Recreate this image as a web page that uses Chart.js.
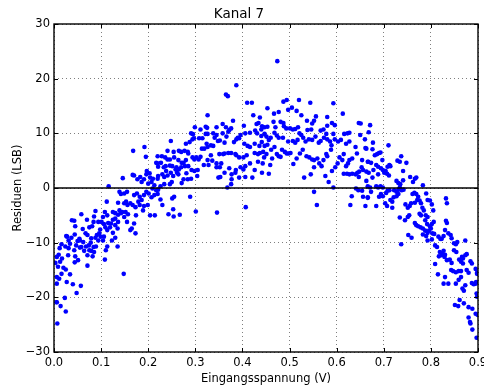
<!DOCTYPE html>
<html>
<head>
<meta charset="utf-8">
<title>Kanal 7</title>
<script src="https://cdn.jsdelivr.net/npm/chart.js@4/dist/chart.umd.min.js"></script>
<style>
  html, body { margin: 0; padding: 0; background: #fff; }
  #wrap { width: 484px; height: 389px; position: relative; }
</style>
</head>
<body>
<div id="wrap"><canvas id="grafik"></canvas></div>
<script>
// Messpunkte [Eingangsspannung V, Residuum LSB]
const punkteBereich1 = [
  [0.005,-20.9],[0.014,-21.6],[0.025,-22.6],[0.007,-24.8],[0.006,-20.9],[0.023,-20.1],[0.011,-16.6],[0.006,-16.3],
  [0.006,-17.5],[0.016,-15.7],[0.027,-17.2],[0.040,-17.6],[0.048,-19.2],[0.057,-17.9],[0.034,-15.8],[0.020,-14.6],
  [0.025,-14.9],[0.0085,-14.4],[0.017,-12.9],[0.013,-13.5],[0.006,-12.6],[0.003,-13.7],[0.010,-12.2],[0.016,-10.3],
  [0.024,-10.7],[0.031,-11.0],[0.030,-12.3],[0.028,-8.9],[0.031,-9.6],[0.034,-10.2],[0.043,-11.4],[0.045,-12.5],
  [0.044,-13.6],[0.051,-13.2],[0.047,-10.5],[0.037,-9.1],[0.044,-8.5],[0.050,-9.7],[0.055,-10.9],[0.054,-9.3],
  [0.062,-9.9],[0.058,-10.8],[0.068,-10.7],[0.064,-11.5],[0.071,-14.2],[0.071,-12.3],[0.075,-11.4],[0.082,-12.5],
  [0.079,-11.5],[0.085,-11.7],[0.074,-10.5],[0.078,-10.0],[0.084,-10.8],[0.089,-10.7],[0.094,-9.6],[0.091,-8.6],
  [0.088,-9.1],[0.079,-9.2],[0.071,-8.6],[0.067,-8.3],[0.061,-7.5],[0.055,-9.6],[0.045,-7.0],[0.038,-5.9],
  [0.043,-6.0],[0.058,-4.8],[0.070,-5.8],[0.075,-7.2],[0.081,-7.0],[0.084,-6.2],[0.088,-4.2],[0.085,-5.2],
  [0.094,-6.2],[0.098,-7.6],[0.096,-8.3],[0.108,-13.1],[0.110,-11.4],[0.113,-10.7],[0.104,-9.6],[0.106,-8.9],
  [0.099,-8.9],[0.104,-5.3],[0.101,-6.2],[0.106,-6.6],[0.109,-7.2],[0.113,-7.7],[0.115,-6.4],[0.119,-7.2],
  [0.125,-8.2],[0.130,-9.1],[0.135,-10.7],[0.123,-9.6],[0.135,-7.4],[0.130,-6.8],[0.136,-6.2],[0.130,-5.6],
  [0.125,-5.8],[0.121,-6.5],[0.113,-5.0],[0.108,-4.4],[0.112,-2.5],[0.116,0.3],[0.125,-4.4],[0.130,-4.6],
  [0.136,-4.9],[0.139,-4.1],[0.142,-4.6],[0.145,-4.4],[0.148,-15.7],[0.149,-5.3],[0.155,-6.2],[0.162,-7.7],
  [0.165,-7.4],[0.173,-8.3],[0.170,-6.5],[0.174,-5.0],[0.157,-4.8],[0.152,-4.4],[0.149,-2.8],[0.153,-2.5],
  [0.156,-3.1],[0.162,-2.8],[0.167,-3.1],[0.173,-3.5],[0.179,-2.5],[0.186,-2.2],[0.182,-3.1],[0.189,-4.1],
  [0.191,-3.3],[0.199,-3.1],[0.204,-5.0],[0.214,-5.0],[0.170,-1.3],[0.176,-1.0],[0.182,-1.6],[0.191,-1.3],
  [0.196,-0.7],[0.201,-1.0],[0.207,-1.7],[0.213,-1.3],[0.217,-0.4],[0.221,-0.3],[0.209,-0.1],[0.207,1.1],
  [0.213,0.5],[0.200,0.8],[0.204,1.9],[0.196,2.5],[0.191,1.6],[0.186,1.1],[0.183,2.0],[0.177,1.6],
  [0.170,2.3],[0.167,2.4],[0.168,6.8],[0.192,7.5],[0.195,5.7],[0.197,3.1],[0.203,2.7],[0.217,4.6],
  [0.221,3.9],[0.210,1.7],[0.155,-0.7],[0.146,1.8],[0.139,-0.7],[0.142,-1.1],[0.149,-1.0],[0.136,-2.7],
  [0.012,-11.0],[0.026,-8.8]
];
const punkteBereich2 = [
  [0.387,18.8],[0.365,17.1],[0.369,16.8],[0.410,15.6],[0.420,15.6],[0.326,13.3],[0.380,12.3],[0.423,13.3],
  [0.437,12.9],[0.299,11.1],[0.311,10.7],[0.322,11.2],[0.325,11.0],[0.345,11.1],[0.358,11.7],[0.365,11.1],
  [0.372,10.6],[0.376,10.9],[0.403,11.4],[0.430,11.7],[0.434,11.9],[0.291,10.0],[0.295,9.85],[0.297,9.1],
  [0.322,9.9],[0.326,9.9],[0.338,10.0],[0.345,9.7],[0.358,10.0],[0.370,10.3],[0.390,9.2],[0.396,9.7],
  [0.406,10.0],[0.416,10.1],[0.427,10.5],[0.431,10.0],[0.440,10.7],[0.248,8.6],[0.280,8.1],[0.288,8.4],
  [0.294,8.9],[0.308,9.1],[0.315,9.1],[0.324,8.1],[0.326,7.5],[0.333,7.8],[0.338,7.7],[0.341,9.2],
  [0.348,8.6],[0.352,8.7],[0.362,8.3],[0.366,9.4],[0.382,8.4],[0.387,8.9],[0.393,9.1],[0.404,8.1],
  [0.411,7.7],[0.416,7.5],[0.426,8.1],[0.436,7.7],[0.441,8.4],[0.220,5.8],[0.229,5.8],[0.241,6.8],
  [0.254,6.6],[0.265,6.8],[0.270,6.6],[0.277,6.8],[0.284,6.6],[0.285,6.3],[0.241,5.2],[0.246,5.2],
  [0.236,5.6],[0.255,5.6],[0.264,5.1],[0.271,4.6],[0.275,4.6],[0.280,5.1],[0.294,5.6],[0.298,5.2],
  [0.302,5.6],[0.307,5.2],[0.311,5.7],[0.314,7.2],[0.319,7.2],[0.326,5.1],[0.333,6.0],[0.336,5.0],
  [0.345,4.5],[0.351,6.2],[0.359,6.2],[0.362,6.3],[0.355,4.5],[0.370,6.4],[0.376,6.4],[0.385,6.2],
  [0.387,6.0],[0.393,5.6],[0.402,5.6],[0.409,6.0],[0.426,6.4],[0.433,6.2],[0.437,6.4],[0.444,6.6],
  [0.220,4.5],[0.227,4.6],[0.233,3.8],[0.237,4.0],[0.246,4.1],[0.251,4.0],[0.260,3.8],[0.265,3.4],
  [0.270,3.8],[0.278,4.0],[0.285,4.0],[0.221,2.2],[0.230,2.5],[0.234,2.0],[0.238,3.1],[0.241,2.3],
  [0.248,2.8],[0.253,2.2],[0.258,3.4],[0.261,2.8],[0.264,2.5],[0.271,0.9],[0.275,1.6],[0.281,2.7],
  [0.284,1.6],[0.291,1.7],[0.292,3.3],[0.298,3.1],[0.305,3.3],[0.304,2.2],[0.234,0.7],[0.246,0.7],
  [0.250,1.1],[0.226,0.3],[0.220,1.7],[0.318,4.2],[0.328,4.2],[0.345,3.8],[0.352,3.8],[0.362,2.8],
  [0.349,1.9],[0.353,2.0],[0.372,3.6],[0.377,2.5],[0.377,1.6],[0.385,2.8],[0.386,3.3],[0.376,0.7],
  [0.393,1.9],[0.396,3.8],[0.402,3.4],[0.406,4.0],[0.406,2.0],[0.416,4.5],[0.421,1.9],[0.426,3.3],
  [0.433,4.8],[0.443,4.5],[0.368,0.1],[0.407,-3.5],[0.226,-2.1],[0.230,-3.1],[0.251,-1.9],[0.255,-1.6],
  [0.253,-3.9],[0.243,-4.8],[0.254,-5.2],[0.267,-4.9],[0.289,-1.6],[0.301,-4.3],[0.346,-4.5],[0.220,-1.1]
];
const punkteBereich3 = [
  [0.474,23.2],[0.487,15.8],[0.494,16.1],[0.520,16.1],[0.544,15.6],[0.593,15.5],[0.453,14.6],[0.467,13.6],
  [0.477,13.9],[0.497,14.3],[0.505,14.7],[0.515,14.1],[0.525,13.3],[0.537,12.3],[0.548,11.8],[0.552,12.3],
  [0.556,13.1],[0.580,13.0],[0.590,11.9],[0.596,11.5],[0.613,13.6],[0.647,11.9],[0.651,11.8],[0.4415,11.3],
  [0.447,11.1],[0.453,11.2],[0.466,12.1],[0.470,11.1],[0.481,12.1],[0.487,11.9],[0.488,11.3],[0.493,10.9],
  [0.501,10.9],[0.507,10.7],[0.512,10.8],[0.518,11.1],[0.538,10.6],[0.546,10.7],[0.566,10.5],[0.572,10.7],
  [0.580,11.4],[0.593,9.9],[0.616,9.9],[0.623,10.0],[0.627,10.1],[0.440,9.5],[0.447,9.9],[0.451,9.4],
  [0.456,8.8],[0.460,9.2],[0.468,10.1],[0.473,9.6],[0.477,9.2],[0.486,9.2],[0.497,8.5],[0.507,8.6],
  [0.512,8.3],[0.517,8.8],[0.521,10.0],[0.525,9.7],[0.529,9.2],[0.534,8.5],[0.541,8.9],[0.548,8.8],
  [0.555,9.4],[0.562,8.3],[0.566,8.6],[0.573,9.2],[0.578,9.9],[0.580,8.9],[0.586,8.5],[0.589,7.8],
  [0.596,8.9],[0.603,8.5],[0.609,8.8],[0.620,8.1],[0.627,8.5],[0.640,7.5],[0.650,9.7],[0.660,8.9],
  [0.447,7.7],[0.453,7.9],[0.461,7.0],[0.468,7.5],[0.451,6.2],[0.446,5.6],[0.463,5.4],[0.473,6.2],
  [0.477,5.8],[0.484,7.0],[0.490,6.6],[0.481,5.7],[0.494,6.3],[0.498,6.3],[0.502,6.4],[0.508,4.4],
  [0.515,5.4],[0.522,6.3],[0.528,7.0],[0.536,5.8],[0.542,5.6],[0.548,5.2],[0.552,5.1],[0.559,5.4],
  [0.563,4.5],[0.568,4.0],[0.552,3.8],[0.572,5.1],[0.576,2.2],[0.578,6.2],[0.580,5.8],[0.588,7.0],
  [0.590,3.1],[0.597,3.8],[0.602,4.5],[0.606,5.6],[0.612,5.1],[0.615,6.2],[0.620,4.0],[0.624,4.5],
  [0.627,5.1],[0.633,5.4],[0.615,2.6],[0.622,2.6],[0.627,2.5],[0.633,2.6],[0.640,2.5],[0.644,2.8],
  [0.648,3.0],[0.653,3.8],[0.656,3.3],[0.643,6.3],[0.654,5.1],[0.661,7.3],[0.666,4.8],[0.456,2.6],
  [0.4415,2.8],[0.459,4.2],[0.531,1.9],[0.545,2.5],[0.583,1.1],[0.593,0.1],[0.552,-0.7],[0.558,-3.1],
  [0.629,-3.1],[0.632,-1.5],[0.641,-0.1],[0.646,-0.4],[0.654,-0.5],[0.656,-1.6],[0.661,-3.3],[0.666,-1.8],
  [0.663,1.3],[0.647,2.0]
];
const punkteBereich4 = [
  [0.671,11.5],[0.668,10.2],[0.677,8.3],[0.663,7.2],[0.676,7.1],[0.681,6.0],[0.686,6.2],[0.690,6.4],
  [0.693,6.5],[0.697,5.1],[0.710,7.8],[0.667,4.8],[0.673,4.6],[0.684,4.2],[0.688,3.9],[0.694,3.6],
  [0.698,3.3],[0.701,2.8],[0.704,3.1],[0.708,3.9],[0.712,4.2],[0.714,4.0],[0.707,2.6],[0.711,2.3],
  [0.663,3.0],[0.668,2.8],[0.676,1.9],[0.678,3.3],[0.688,2.5],[0.729,5.0],[0.734,4.8],[0.737,5.8],
  [0.741,3.1],[0.748,4.6],[0.727,1.3],[0.731,0.9],[0.735,0.7],[0.741,1.4],[0.756,2.0],[0.762,1.1],
  [0.766,1.7],[0.769,1.9],[0.783,0.5],[0.666,0.3],[0.671,0.1],[0.684,0.3],[0.688,0.1],[0.693,0.3],
  [0.698,0.1],[0.666,-1.7],[0.673,-0.7],[0.684,-3.3],[0.690,-1.6],[0.694,-1.1],[0.698,-1.5],[0.705,-0.9],
  [0.708,-0.5],[0.712,-0.4],[0.703,-2.8],[0.707,-3.3],[0.714,-2.2],[0.718,-2.5],[0.718,-3.6],[0.721,-1.7],
  [0.727,-1.5],[0.731,-1.1],[0.722,-0.4],[0.727,-0.7],[0.731,-0.3],[0.734,0.1],[0.738,-0.4],[0.742,-0.3],
  [0.734,-5.4],[0.746,-3.0],[0.751,-3.6],[0.755,-3.3],[0.758,-2.8],[0.745,-5.9],[0.751,-5.3],[0.754,-5.0],
  [0.761,-1.1],[0.765,-0.9],[0.769,-1.1],[0.773,-1.6],[0.766,-2.7],[0.771,-2.2],[0.776,-2.3],[0.779,-2.8],
  [0.782,-3.6],[0.785,-4.1],[0.776,-4.7],[0.779,-5.0],[0.789,-5.0],[0.793,-5.3],[0.790,-1.0],[0.793,-2.2],
  [0.798,-2.3],[0.802,-3.0],[0.805,-4.1],[0.788,-5.9],[0.792,-6.6],[0.798,-7.0],[0.802,-6.6],[0.806,-6.2],
  [0.766,-6.4],[0.769,-6.8],[0.773,-7.0],[0.778,-7.2],[0.783,-7.4],[0.788,-7.8],[0.793,-8.2],[0.796,-7.8],
  [0.800,-7.4],[0.790,-8.8],[0.783,-8.5],[0.752,-8.6],[0.759,-9.1],[0.737,-10.3],[0.793,-9.6],[0.802,-9.4],
  [0.803,-8.3],[0.807,-8.4],[0.809,-10.5],[0.813,-10.8],[0.816,-8.9],[0.820,-9.3],[0.832,-6.0],[0.834,-6.4],
  [0.830,-7.7],[0.823,-9.3],[0.827,-8.8],[0.832,-1.9],[0.834,-2.8],[0.819,-11.7],[0.823,-12.0],[0.827,-11.5],
  [0.830,-12.2],[0.817,-12.5],[0.823,-12.3],[0.829,-12.6],[0.809,-13.9],[0.834,-13.2],[0.840,-13.1],[0.844,-13.7],
  [0.837,-8.3],[0.842,-8.6],[0.844,-9.2],[0.849,-10.1],[0.853,-10.3],[0.856,-9.9],[0.849,-11.4],[0.854,-11.7],
  [0.860,-13.1],[0.866,-12.6],[0.868,-12.9],[0.873,-12.3],[0.876,-12.1],[0.873,-9.6],[0.864,-13.5],[0.868,-13.8],
  [0.843,-15.0],[0.847,-15.2],[0.853,-15.4],[0.859,-15.2],[0.864,-15.2],[0.876,-15.0],[0.880,-15.5],[0.884,-13.4],
  [0.887,-13.8],[0.895,-14.8],[0.898,-15.5],[0.815,-15.8],[0.827,-17.5],[0.837,-17.5],[0.830,-16.3],[0.853,-17.5],
  [0.859,-16.8],[0.864,-16.3],[0.867,-18.4],[0.870,-18.8],[0.873,-17.8],[0.887,-17.4],[0.891,-17.6],[0.895,-17.5],
  [0.851,-21.4],[0.858,-21.6],[0.861,-20.5],[0.870,-21.1],[0.880,-21.8],[0.888,-22.1],[0.895,-23.0],[0.880,-23.7],
  [0.883,-24.5],[0.884,-24.8],[0.888,-25.9],[0.897,-27.4],[0.897,-19.3],[0.898,-19.9],[0.899,-23.2],[0.896,-17.2],
  [0.898,-15.7]
];

const xTicks = [0.0, 0.1, 0.2, 0.3, 0.4, 0.5, 0.6, 0.7, 0.8, 0.9];
const yTicks = [-30, -20, -10, 0, 10, 20, 30];
const nullLinieX = [0, 0.9];

const messpunkte = [].concat(punkteBereich1, punkteBereich2, punkteBereich3, punkteBereich4)
  .map(p => ({ x: p[0], y: p[1] }));

Chart.defaults.font.family = "'DejaVu Sans', sans-serif";
Chart.defaults.color = '#000';

// rahmen und nach innen zeigende ticks wie bei matplotlib
const rahmenPlugin = {
  id: 'rahmen',
  afterDraw(chart) {
    const { ctx, chartArea: a, scales } = chart;
    ctx.save();
    ctx.strokeStyle = '#000';
    ctx.lineWidth = 1;
    ctx.beginPath();
    xTicks.forEach(v => {
      const px = Math.round(scales.x.getPixelForValue(v)) + 0.5;
      ctx.moveTo(px, a.bottom); ctx.lineTo(px, a.bottom - 4);
      ctx.moveTo(px, a.top); ctx.lineTo(px, a.top + 4);
    });
    yTicks.forEach(v => {
      const py = Math.round(scales.y.getPixelForValue(v)) + 0.5;
      ctx.moveTo(a.left, py); ctx.lineTo(a.left + 4, py);
      ctx.moveTo(a.right, py); ctx.lineTo(a.right - 4, py);
    });
    ctx.stroke();
    ctx.lineWidth = 1.4;
    ctx.strokeRect(a.left, a.top, a.right - a.left, a.bottom - a.top);
    ctx.restore();
  }
};

new Chart(document.getElementById('grafik'), {
  type: 'scatter',
  data: {
    datasets: [
      {
        type: 'line',
        data: nullLinieX.map(x => ({ x: x, y: 0 })),
        borderColor: '#000',
        borderWidth: 1.5,
        pointRadius: 0,
        order: 0
      },
      {
        data: messpunkte,
        pointRadius: 2.3,
        pointBackgroundColor: '#0000ff',
        pointBorderWidth: 0,
        order: 1
      }
    ]
  },
  options: {
    responsive: true,
    maintainAspectRatio: false,
    animation: false,
    layout: { padding: { left: 0, right: 6, top: 0, bottom: 0 } },
    plugins: {
      legend: { display: false },
      tooltip: { enabled: false },
      title: {
        display: true,
        text: 'Kanal 7',
        color: '#000',
        font: { size: 13.5, weight: 'normal' },
        padding: { top: 6.5, bottom: 1.3 }
      }
    },
    scales: {
      x: {
        type: 'linear',
        min: 0,
        max: 0.9,
        afterBuildTicks: s => { s.ticks = xTicks.map(v => ({ value: v })); },
        afterFit: s => { s.height = 37; s.paddingLeft = 0; s.paddingRight = 0; },
        ticks: { padding: 4, font: { size: 11.5 }, callback: v => v.toFixed(1), maxRotation: 0 },
        grid: { color: 'rgba(0,0,0,0.5)', drawTicks: false },
        border: { display: false, dash: [1, 3] },
        title: { display: true, text: 'Eingangsspannung (V)', font: { size: 11.5 }, padding: { bottom: 3 } }
      },
      y: {
        type: 'linear',
        min: -30,
        max: 30,
        afterBuildTicks: s => { s.ticks = yTicks.map(v => ({ value: v })); },
        afterFit: s => { s.width = 54; s.paddingTop = 0; s.paddingBottom = 0; },
        ticks: { padding: 4, font: { size: 11.5 }, callback: v => String(v).replace('-', '\u2212') },
        grid: { color: 'rgba(0,0,0,0.5)', drawTicks: false },
        border: { display: false, dash: [1, 3] },
        title: { display: true, text: 'Residuen (LSB)', font: { size: 11.5 }, padding: { top: 11 } }
      }
    }
  },
  plugins: [rahmenPlugin]
});
</script>
</body>
</html>
